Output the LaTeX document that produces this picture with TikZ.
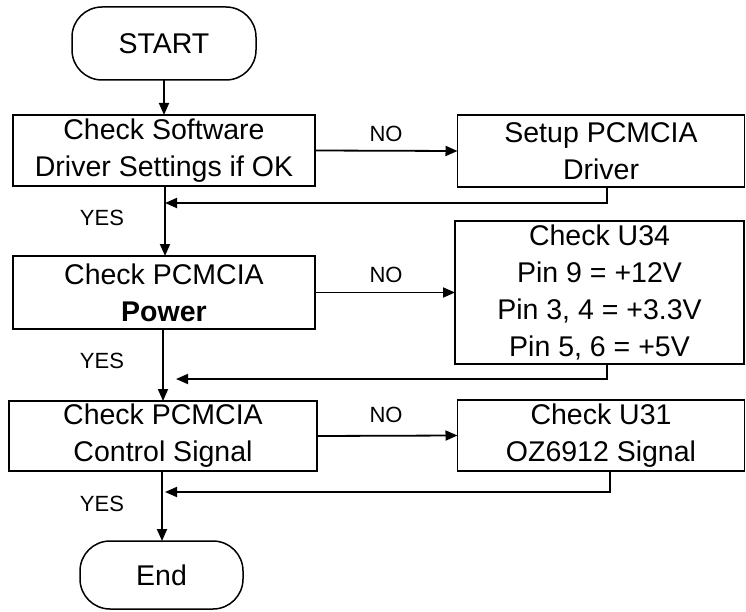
\documentclass[tikz,border=0pt]{standalone}
\usepackage{fontspec}
\setmainfont{Liberation Sans}
\usetikzlibrary{arrows.meta}
\begin{document}
\begin{tikzpicture}[x=1pt,y=-1pt,
  every node/.style={inner sep=0pt,outer sep=0pt},
  boxtxt/.style={font=\fontsize{28.5}{37}\selectfont,align=center},
  procbox/.style={draw,line width=1.8pt,rectangle,boxtxt},
  termbox/.style={draw,line width=1.5pt,rounded corners=30pt,boxtxt},
  lbl/.style={font=\fontsize{22}{24}\selectfont},
  flow/.style={line width=1.8pt,-{Triangle[length=12pt,width=10pt]}},
  plain/.style={line width=1.8pt}]
\useasboundingbox (0,0) rectangle (746,612);
\node[termbox,minimum width=184pt,minimum height=73pt] (start) at (164,43.5) {START};
\node[procbox,minimum width=302pt,minimum height=71pt] (b1) at (164,150.5) {Check Software\\Driver Settings if OK};
\node[procbox,minimum width=287pt,minimum height=72pt] (b2) at (601,151) {Setup PCMCIA\\Driver};
\node[procbox,minimum width=302pt,minimum height=73pt] (b3) at (164,292.5) {Check PCMCIA\\\textbf{Power}};
\node[procbox,minimum width=289pt,minimum height=143pt] (b4) at (599.5,292.5) {Check U34\\Pin 9 = +12V\\Pin 3, 4 = +3.3V\\Pin 5, 6 = +5V};
\node[procbox,minimum width=308pt,minimum height=70pt] (b5) at (163,436) {Check PCMCIA\\Control Signal};
\node[procbox,minimum width=287pt,minimum height=71pt] (b6) at (601,435.5) {Check U31\\OZ6912 Signal};
\node[termbox,minimum width=163pt,minimum height=68pt] (end) at (161.5,575) {End};

\node[lbl] (no1) at (386,134) {NO};
\node[lbl] (no2) at (386,275) {NO};
\node[lbl] (no3) at (386,415) {NO};
\node[lbl] (yes1) at (102,218) {YES};
\node[lbl] (yes2) at (102,361) {YES};
\node[lbl] (yes3) at (102,504) {YES};

\coordinate (r1) at (607,203);
\coordinate (m1) at (165,203);
\coordinate (r2) at (607,379);
\coordinate (m2) at (176,379);
\coordinate (r3) at (610,492);
\coordinate (m3) at (165,492);

\draw[flow] (start.south) -- (b1.north);
\draw[flow] (b1.south -| m1) -- (b3.north -| m1);
\draw[flow] (b3.south -| 163,0) -- (b5.north -| 163,0);
\draw[flow] (b5.south -| 162,0) -- (end.north -| 162,0);

\draw[flow] (b1.east) -- (b2.west);
\draw[flow] (b3.east) -- (b4.west);
\draw[flow] (b5.east) -- (b6.west);

\draw[flow] (b2.south -| r1) -- (r1) -- (m1);
\draw[flow] (b4.south -| r2) -- (r2) -- (m2);
\draw[flow] (b6.south -| r3) -- (r3) -- (m3);
\end{tikzpicture}
\end{document}
